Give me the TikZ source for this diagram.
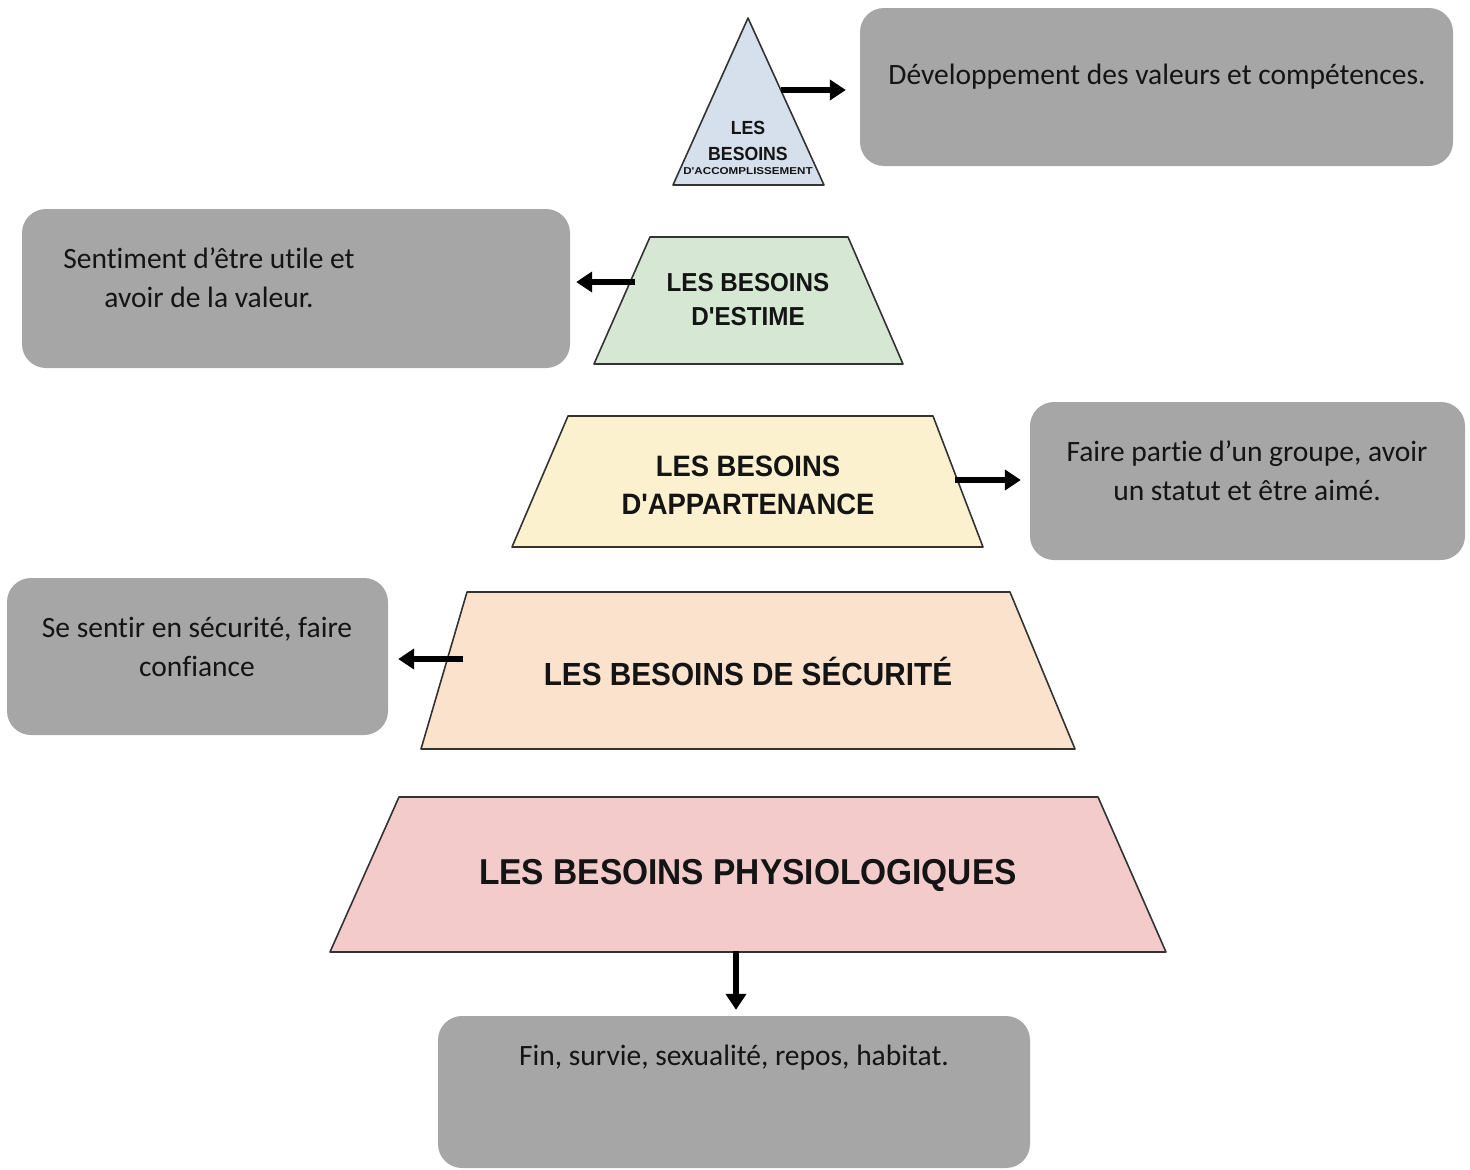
\documentclass[tikz,border=0pt]{standalone}
\usepackage{fontspec}
\usepackage{graphicx}
\setmainfont{Carlito}[Ligatures={NoCommon}]
\newfontfamily\pyr[FakeStretch=0.93]{Liberation Sans}
\usetikzlibrary{arrows.meta}
\definecolor{boxgray}{HTML}{A6A6A6}
\definecolor{lvlA}{HTML}{D6DFEC}
\definecolor{lvlB}{HTML}{D6E8D3}
\definecolor{lvlC}{HTML}{FCF1CE}
\definecolor{lvlD}{HTML}{FBE2CD}
\definecolor{lvlE}{HTML}{F3CBCB}
\begin{document}
\begin{tikzpicture}[x=1pt,y=-1pt,
  level/.style={draw=black!80, line width=1.6pt, line join=round},
  box/.style={fill=boxgray, rounded corners=24pt, inner sep=0pt},
  btext/.style={font=\fontsize{29.5}{39}\selectfont, align=center, text=black!92, inner sep=0pt},
  ptext/.style={align=center, text=black!92, inner sep=0pt},
  arr/.style={line width=6pt, -{Triangle[length=16pt,width=20pt]}}]
\useasboundingbox (0,0) rectangle (1470,1170);
% pyramid levels
\draw[level, fill=lvlA] (748,18) -- (824,185) -- (673,185) -- cycle;
\draw[level, fill=lvlB] (650,237) -- (848,237) -- (903,364) -- (594,364) -- cycle;
\draw[level, fill=lvlC] (568,416) -- (933,416) -- (983,547) -- (512,547) -- cycle;
\draw[level, fill=lvlD] (467,592) -- (1010,592) -- (1075,749) -- (421,749) -- cycle;
\draw[level, fill=lvlE] (399,797) -- (1098,797) -- (1166,952) -- (330,952) -- cycle;
% pyramid texts
\node[ptext, font=\pyr\bfseries\fontsize{19}{19}\selectfont] (ta1) at (748,128) {LES};
\node[ptext, font=\pyr\bfseries\fontsize{19}{19}\selectfont] (ta2) at (748,154) {BESOINS};
\node[ptext, font=\pyr\bfseries\fontsize{10}{10}\selectfont] (ta3) at (748,171) {\scalebox{1.25}[1]{D'ACCOMPLISSEMENT}};
\node[ptext, font=\pyr\bfseries\fontsize{26}{34}\selectfont] (tb) at (748,300) {LES BESOINS\\D'ESTIME};
\node[ptext, font=\pyr\bfseries\fontsize{29.5}{38}\selectfont] (tc) at (748,485) {LES BESOINS\\D'APPARTENANCE};
\node[ptext, font=\pyr\bfseries\fontsize{32}{32}\selectfont] (td) at (748,671) {LES BESOINS DE SÉCURITÉ};
\node[ptext, font=\pyr\bfseries\fontsize{36}{36}\selectfont] (te) at (748,875) {LES BESOINS PHYSIOLOGIQUES};
% boxes
\node[box, minimum width=593pt, minimum height=158pt] (b1) at (1156.5,87) {};
\node[box, minimum width=548pt, minimum height=159pt] (b2) at (296,288.5) {};
\node[box, minimum width=435pt, minimum height=158pt] (b3) at (1247.5,481) {};
\node[box, minimum width=381pt, minimum height=157pt] (b4) at (197.5,656.5) {};
\node[box, minimum width=592pt, minimum height=152pt] (b5) at (734,1092) {};
% box texts
\node[btext] (b1t) at (1157,77) {Développement des valeurs et compétences.};
\node[btext] (b2t) at (209,278) {Sentiment d’être utile et\\avoir de la valeur.};
\node[btext] (b3t) at (1247,471) {Faire partie d’un groupe, avoir\\un statut et être aimé.};
\node[btext] (b4t) at (197,647) {Se sentir en sécurité, faire\\confiance};
\node[btext] (b5t) at (734,1058) {Fin, survie, sexualité, repos, habitat.};
% arrow start points on the levels
\coordinate (s1) at (781,90);
\coordinate (s2) at (635,282);
\coordinate (s3) at (955,480);
\coordinate (s4) at (463,659);
\coordinate (s5) at (736,951);
% connectors
\draw[arr, shorten >=14pt] (s1) -- (s1 -| b1.west);
\draw[arr, shorten >=6pt] (s2) -- (s2 -| b2.east);
\draw[arr, shorten >=9pt] (s3) -- (s3 -| b3.west);
\draw[arr, shorten >=10pt] (s4) -- (s4 -| b4.east);
\draw[arr, shorten >=6pt] (s5) -- (s5 |- b5.north);
\end{tikzpicture}
\end{document}
